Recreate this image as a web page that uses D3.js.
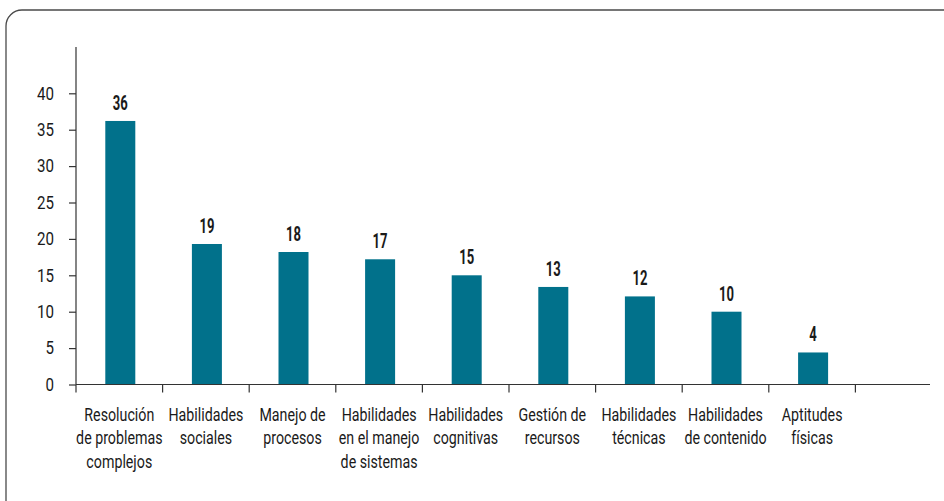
<!DOCTYPE html>
<meta charset="utf-8">
<html>
  <style>
    body, html{ margin: 0; background: #fff;}
    svg text{ font-family: Roboto, "Noto Sans", sans-serif; fill: #1a1a1a; }
    .frame{ fill: none; stroke: #4a4a4a; stroke-width: 1.3; }
    .bar{ fill: #01718b; }
    .axis path, .axis line{ stroke: #333; stroke-width: 1.2; }
    .axis text{ font-size: 18px; }
    .val{ font-size: 19.5px; font-weight: bold; }
  </style>
  <body>
    <svg></svg>
    <script src="https://cdn.jsdelivr.net/npm/d3@7"></script>
    <script>
var categories = [
  ['Resolución', 'de problemas', 'complejos'],
  ['Habilidades', 'sociales'],
  ['Manejo de', 'procesos'],
  ['Habilidades', 'en el manejo', 'de sistemas'],
  ['Habilidades', 'cognitivas'],
  ['Gestión de', 'recursos'],
  ['Habilidades', 'técnicas'],
  ['Habilidades', 'de contenido'],
  ['Aptitudes', 'físicas']
]
var values = [36.2, 19.3, 18.2, 17.2, 15.0, 13.4, 12.1, 10.0, 4.4]
var labels = ['36', '19', '18', '17', '15', '13', '12', '10', '4']
var yTicks = [0, 5, 10, 15, 20, 25, 30, 35, 40]

var w = 944, h = 501
  , svg = d3.select('svg').attr('width', w).attr('height', h)
  , left = 76, bottom = 384.5, band = 86.6

// the source font is condensed: squeeze text horizontally to the widths seen in the picture
function squeeze(txt, size, weight, target){
  var p = svg.append('text').style('font-size', size + 'px').style('font-weight', weight).text(txt)
    , f = target / p.node().getComputedTextLength()
  p.remove()
  return f
}
var kCat = squeeze('Habilidades', 19, 'normal', 75)
  , kTick = squeeze('40', 18, 'normal', 17)
  , kVal = squeeze('36', 19.5, 'bold', 15)

svg.append('rect').attr('class', 'frame')
  .attr('x', 6).attr('y', 10).attr('width', 980).attr('height', 520).attr('rx', 16)

var x = d3.scaleBand().domain(d3.range(categories.length))
    .range([left, left + band * categories.length]).paddingInner(0).paddingOuter(0)
  , y = d3.scaleLinear().domain([0, 40]).range([bottom, 93.3])

// y axis, line runs above the last tick
var gy = svg.append('g').attr('class', 'axis').attr('transform', 'translate(' + left + ',0)')
  .call(d3.axisLeft(y).tickValues(yTicks).tickSize(7).tickSizeOuter(0))
gy.select('.domain').remove()
gy.selectAll('text').attr('transform', 'scale(' + kTick + ',1)').attr('x', -22 / kTick)
gy.append('line').attr('y1', bottom).attr('y2', 47).attr('stroke', '#333')

// bars
svg.selectAll('.bar').data(values).enter().append('rect').attr('class', 'bar')
  .attr('x', function(d, i){ return x(i) + x.bandwidth() / 2 - 15 + 1 })
  .attr('width', 30)
  .attr('y', function(d){ return y(d) })
  .attr('height', function(d){ return y(0) - y(d) })

svg.selectAll('.val').data(values).enter().append('text').attr('class', 'val')
  .attr('text-anchor', 'middle')
  .attr('transform', function(d, i){
    return 'translate(' + (x(i) + x.bandwidth() / 2 + 1) + ',' + (y(d) - 11) + ') scale(' + kVal + ',1)' })
  .text(function(d, i){ return labels[i] })

// x axis: baseline plus boundary ticks
var gx = svg.append('g').attr('class', 'axis')
gx.append('line').attr('x1', left).attr('x2', 930).attr('y1', bottom).attr('y2', bottom)
gx.selectAll('.tk').data(d3.range(categories.length + 1)).enter().append('line')
  .attr('x1', function(d){ return left + d * x.step() })
  .attr('x2', function(d){ return left + d * x.step() })
  .attr('y1', bottom).attr('y2', bottom + 8)

var cat = svg.selectAll('.cat').data(categories).enter().append('text').attr('class', 'cat')
  .attr('text-anchor', 'middle').style('font-size', '19px')
  .attr('transform', function(d, i){
    return 'translate(' + (x(i) + x.bandwidth() / 2) + ',' + 420.5 + ') scale(' + kCat + ',1)' })
cat.selectAll('tspan').data(function(d){ return d }).enter().append('tspan')
  .attr('x', 0).attr('dy', function(d, i){ return i ? 24 : 0 })
  .text(function(d){ return d })
    </script>
  </body>
</html>
